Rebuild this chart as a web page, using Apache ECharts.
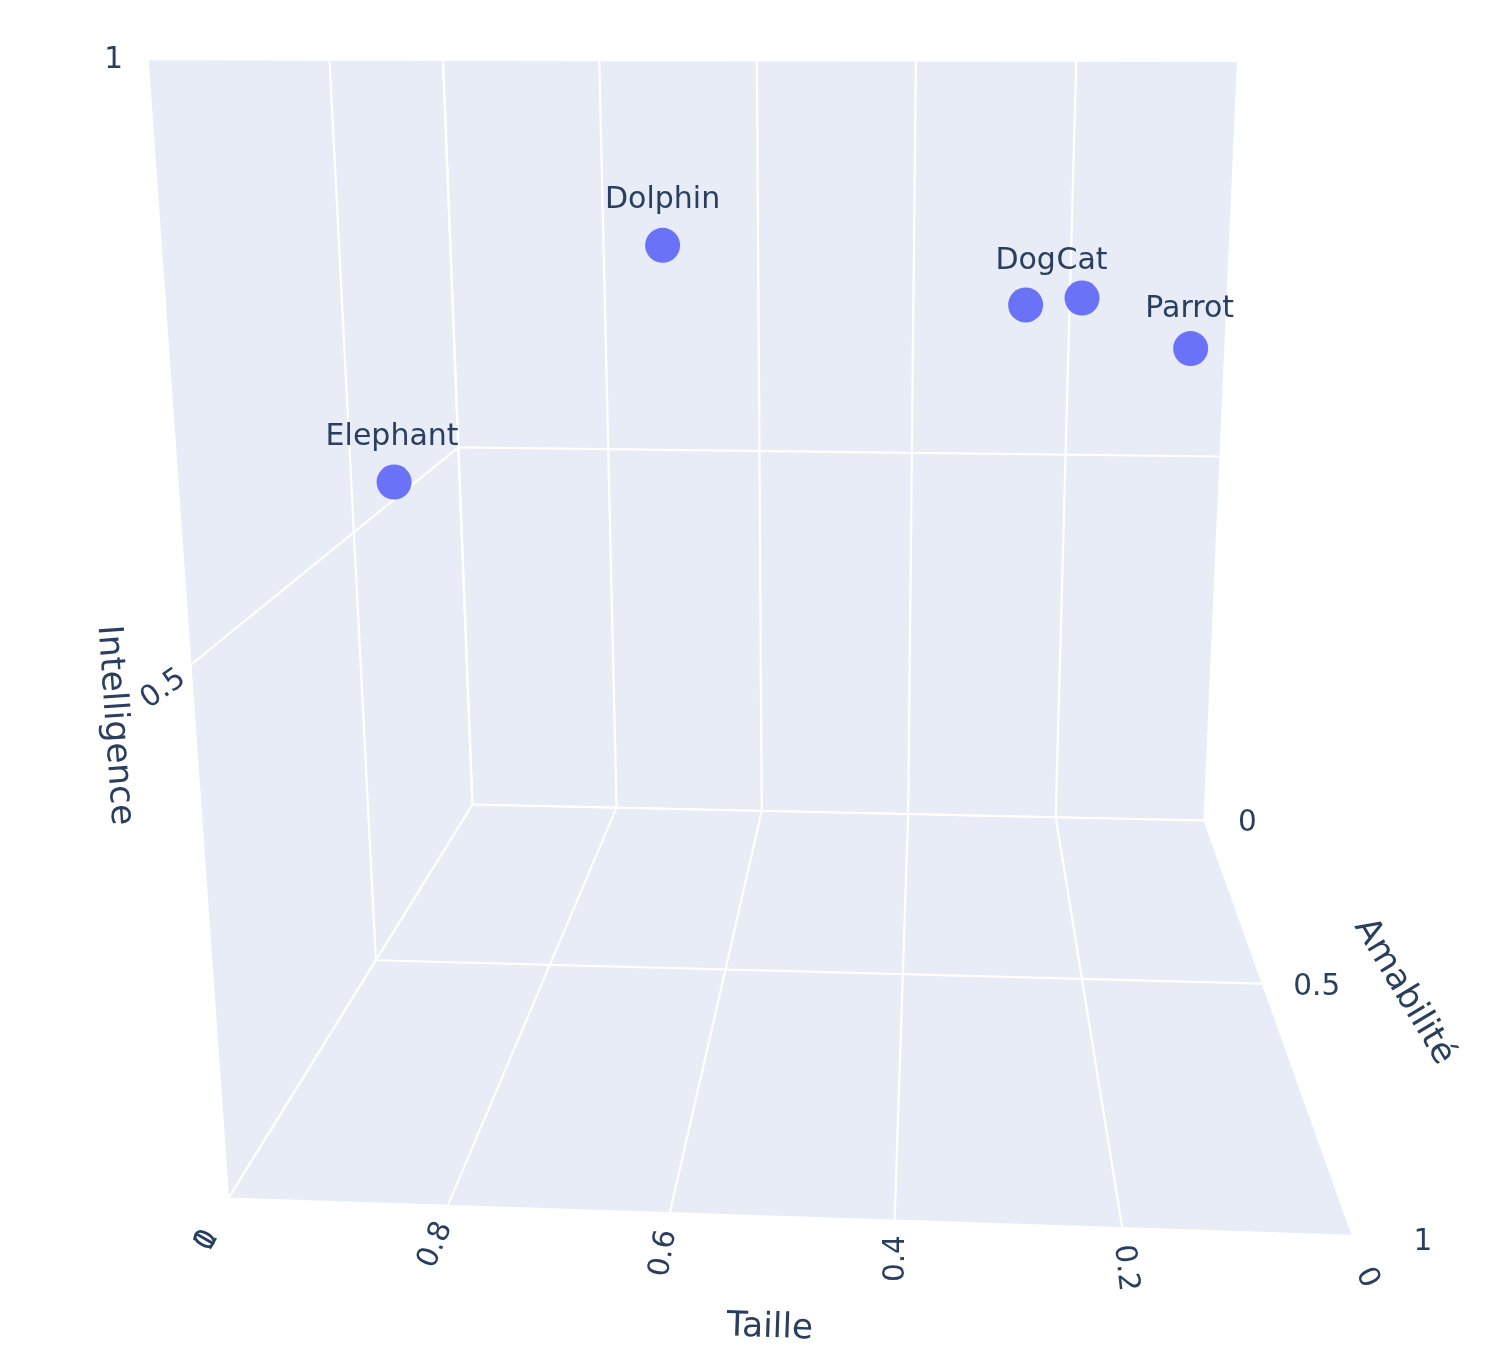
<!DOCTYPE html>
<html><head><meta charset="utf-8">
<style>html,body{margin:0;padding:0;background:#fff}#c{width:1505px;height:1370px}</style>
<script src="https://cdn.jsdelivr.net/npm/echarts@6/dist/echarts.min.js"></script>
</head><body><div id="c"></div>
<script>
const animals = ['Dog','Cat','Dolphin','Elephant','Parrot'];
const taille = [0.298,0.214,0.605,0.899,0.095];
const amabilite = [0.9,0.4,0.9,0.7,0.4];
const intelligence = [0.799,0.749,0.847,0.598,0.695];

const tailleTicks = [0,0.2,0.4,0.6,0.8,1];
const tailleTickLabels = ['0','0.2','0.4','0.6','0.8','1'];
const amabiliteTicks = [0,0.5,1];
const amabiliteTickLabels = ['0','0.5','1'];
const intelligenceTicks = [0,0.5,1];
const intelligenceTickLabels = ['0','0.5','1'];

// Perspective camera: data cube -> page units
const camera = [
  [-722.5,-329.9,-65.5,1204.5],
  [0.24,-21.6,-764.5,820.5],
  [0.0202,-0.3535,-0.08,1]
];
function project(x,y,z){
  const w = camera[2][0]*x+camera[2][1]*y+camera[2][2]*z+camera[2][3];
  return [
    (camera[0][0]*x+camera[0][1]*y+camera[0][2]*z+camera[0][3])/w,
    (camera[1][0]*x+camera[1][1]*y+camera[1][2]*z+camera[1][3])/w
  ];
}
const INK = '#2a3f5f', WALL = '#E7ECF6', MARK = '#6A73F8';
const FONT = '"DejaVu Sans", Verdana, sans-serif';

// Walls
const walls = [
  [[1,0,0],[0,0,0],[0,0,1],[1,0,1]],
  [[1,0,0],[1,1,0],[1,1,1],[1,0,1]],
  [[1,0,0],[0,0,0],[0,1,0],[1,1,0]]
].map(q => q.flatMap(p => project(p[0],p[1],p[2])));

// Grid lines
const gridSegs = [];
function seg(a,b){ gridSegs.push([...project(a[0],a[1],a[2]),...project(b[0],b[1],b[2])]); }
tailleTicks.forEach(t => { seg([t,0,0],[t,0,1]); seg([t,0,0],[t,1,0]); });
amabiliteTicks.forEach(t => { seg([1,t,0],[1,t,1]); seg([0,t,0],[1,t,0]); });
intelligenceTicks.forEach(t => { seg([0,0,t],[1,0,t]); seg([1,0,t],[1,1,t]); });

// Texts anchored on the cube edges
const texts = [];
function addText(text,world,off,rot,size){
  const p = project(world[0],world[1],world[2]);
  texts.push({text,rot,size,dx:off[0],dy:off[1],value:p});
}
const tailleOff = [[14,42,-65],[3,40,-84],[2,38,90],[-6,40,80],[-12,39,67],[-21,42,60]];
tailleTicks.forEach((t,i)=>addText(tailleTickLabels[i],[t,1,0],tailleOff[i],tailleOff[i][2],29.5));
const intelOff = [[-21,42,60],[-27,24,35],[-34,1,0]];
intelligenceTicks.forEach((t,i)=>addText(intelligenceTickLabels[i],[1,1,t],intelOff[i],intelOff[i][2],29.5));
const amabOff = [[43,3,0],[54,4,0],[70,7,0]];
amabiliteTicks.forEach((t,i)=>addText(amabiliteTickLabels[i],[0,t,0],amabOff[i],0,29.5));
addText('Taille',[0.5,1,0],[-12,111],-2,34.5);
addText('Intelligence',[1,1,0.5],[-76,60],-86,34.5);
addText('Amabilité',[0,0.5,0],[141,8],-59,34.5);

const labelOffsets = [[0,1],[0,8],[0,0],[-2,0],[-1,6]];
const points = animals.map((a,i)=>({
  name:a,
  value:project(taille[i],amabilite[i],intelligence[i]),
  label:{offset:labelOffsets[i]}
}));

const chart = echarts.init(document.getElementById('c'),null,{width:1505,height:1370,renderer:'canvas'});
chart.setOption({
  animation:false,
  backgroundColor:'#ffffff',
  grid:{left:0,right:0,top:0,bottom:0},
  xAxis:{type:'value',min:0,max:1505,show:false},
  yAxis:{type:'value',min:0,max:1370,inverse:true,show:false},
  series:[
    {type:'custom',coordinateSystem:'cartesian2d',silent:true,z:1,clip:false,
     data:walls,
     renderItem:(p,api)=>{
       const pts=[];
       for(let i=0;i<8;i+=2) pts.push(api.coord([api.value(i),api.value(i+1)]));
       return {type:'polygon',shape:{points:pts},style:{fill:WALL}};
     }},
    {type:'custom',coordinateSystem:'cartesian2d',silent:true,z:2,clip:false,
     data:gridSegs,
     renderItem:(p,api)=>{
       const a=api.coord([api.value(0),api.value(1)]), b=api.coord([api.value(2),api.value(3)]);
       return {type:'line',shape:{x1:a[0],y1:a[1],x2:b[0],y2:b[1]},style:{stroke:'#ffffff',lineWidth:2.2}};
     }},
    {type:'custom',coordinateSystem:'cartesian2d',silent:true,z:3,clip:false,
     data:texts.map(t=>t.value),
     renderItem:(p,api)=>{
       const t=texts[p.dataIndex];
       const c=api.coord([api.value(0),api.value(1)]);
       return {type:'text',x:c[0]+t.dx,y:c[1]+t.dy,rotation:t.rot*Math.PI/180,
         style:{text:t.text,fill:INK,font:t.size+'px '+FONT,align:'center',verticalAlign:'middle'}};
     }},
    {type:'scatter',coordinateSystem:'cartesian2d',z:4,clip:false,
     symbol:'circle',symbolSize:35,
     itemStyle:{color:MARK,opacity:1},
     data:points,
     label:{show:true,position:'top',distance:12.5,formatter:'{b}',color:INK,fontFamily:FONT,fontSize:30}}
  ]
});
</script></body></html>
